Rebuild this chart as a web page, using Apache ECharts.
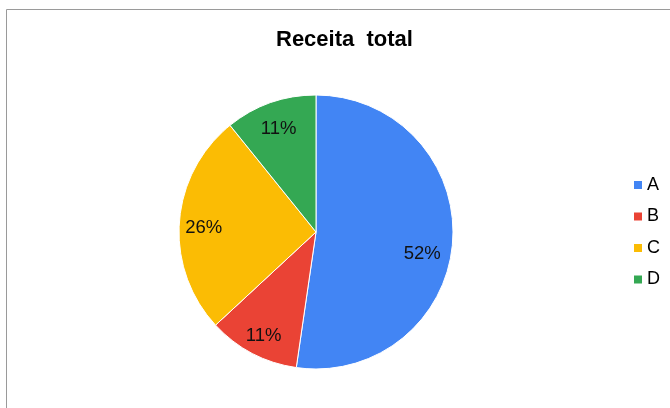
<!DOCTYPE html>
<html>
<head>
<meta charset="utf-8">
<script src="https://cdn.jsdelivr.net/npm/echarts@6/dist/echarts.min.js"></script>
<style>html,body{margin:0;padding:0;background:#fff}#c{width:670px;height:408px}</style>
</head>
<body>
<div id="c"></div>
<script>
const titleText = 'Receita  total';
const categories = ['A', 'B', 'C', 'D'];
const values = [52.3, 10.8, 26.1, 10.8];
const colors = ['#4285F4', '#EA4335', '#FBBC04', '#34A853'];

const font = "'Liberation Sans', Arial, sans-serif";
const labelShift = { A: [-6, 14], B: [0, 4], C: [0, 4], D: [0, 3] };
const data = categories.map((c, i) => ({ name: c, value: values[i] }));
const labelData = categories.map((c, i) => ({ name: c, value: values[i], label: { offset: labelShift[c] } }));

const chart = echarts.init(document.getElementById('c'), null, { renderer: 'canvas' });
chart.setOption({
  animation: false,
  color: colors,
  graphic: [{
    type: 'rect',
    shape: { x: 6.5, y: 9.5, width: 720, height: 520 },
    style: { fill: 'none', stroke: '#9a9a9a', lineWidth: 1 },
    silent: true,
    z: -10
  }],
  title: {
    text: titleText,
    left: 271,
    top: 24,
    textStyle: { fontFamily: font, fontSize: 22, fontWeight: 'bold', color: '#000' }
  },
  legend: {
    orient: 'vertical',
    left: 632,
    top: 176,
    padding: 0,
    icon: 'rect',
    itemWidth: 10,
    itemHeight: 10,
    itemGap: 13.5,
    data: categories,
    textStyle: { fontFamily: font, fontSize: 18, color: '#000', padding: [0, 0, 0, -1] }
  },
  series: [{
    type: 'pie',
    center: [316, 232],
    radius: 137,
    startAngle: 90,
    clockwise: true,
    data: data,
    label: { show: false },
    labelLine: { show: false },
    itemStyle: { borderColor: '#fff', borderWidth: 1 },
    emphasis: { disabled: true }
  }, {
    type: 'pie',
    center: [316, 232],
    radius: [82, 137],
    startAngle: 90,
    clockwise: true,
    percentPrecision: 0,
    data: labelData,
    silent: true,
    itemStyle: { color: 'rgba(0,0,0,0)', borderWidth: 0 },
    label: {
      show: true,
      position: 'inside',
      formatter: '{d}%',
      fontFamily: font,
      fontSize: 18.5,
      color: '#111'
    },
    labelLine: { show: false },
    emphasis: { disabled: true }
  }]
});
</script>
</body>
</html>
